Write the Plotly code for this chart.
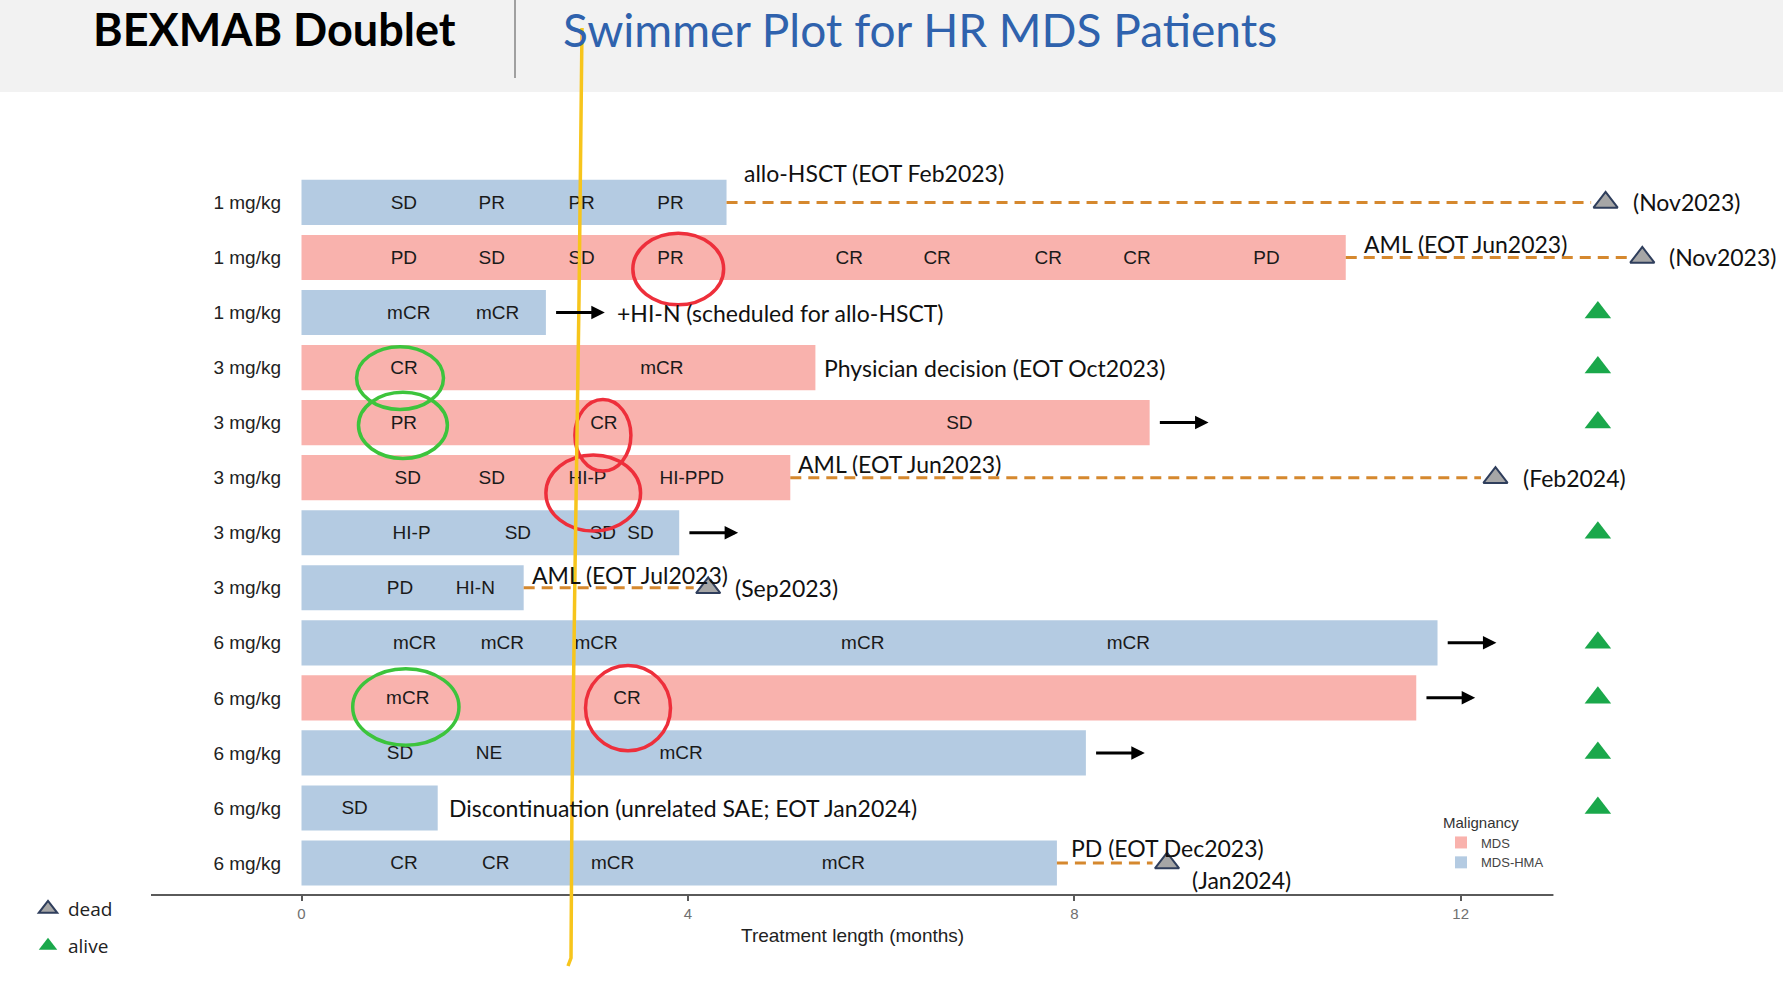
import plotly.graph_objects as go

# ---------------- data ----------------
dose_labels = ["1 mg/kg", "1 mg/kg", "1 mg/kg", "3 mg/kg", "3 mg/kg", "3 mg/kg", "3 mg/kg",
               "3 mg/kg", "6 mg/kg", "6 mg/kg", "6 mg/kg", "6 mg/kg", "6 mg/kg"]
malignancy = ["MDS-HMA", "MDS", "MDS-HMA", "MDS", "MDS", "MDS", "MDS-HMA",
              "MDS-HMA", "MDS-HMA", "MDS", "MDS-HMA", "MDS-HMA", "MDS-HMA"]
treatment_months = [4.40, 10.81, 2.53, 5.32, 8.78, 5.06, 3.91, 2.30, 11.76, 11.54, 8.12, 1.41, 7.82]

response_times = [
    [1.06, 1.97, 2.90, 3.82],
    [1.06, 1.97, 2.90, 3.82, 5.67, 6.58, 7.73, 8.65, 9.99],
    [1.11, 2.03],
    [1.06, 3.73],
    [1.06, 3.13, 6.81],
    [1.10, 1.97, 2.96, 4.04],
    [1.14, 2.24, 3.12, 3.51],
    [1.02, 1.80],
    [1.17, 2.08, 3.05, 5.81, 8.56],
    [1.10, 3.37],
    [1.02, 1.94, 3.93],
    [0.55],
    [1.06, 2.01, 3.22, 5.61],
]
response_labels = [
    ["SD", "PR", "PR", "PR"],
    ["PD", "SD", "SD", "PR", "CR", "CR", "CR", "CR", "PD"],
    ["mCR", "mCR"],
    ["CR", "mCR"],
    ["PR", "CR", "SD"],
    ["SD", "SD", "HI-P", "HI-PPD"],
    ["HI-P", "SD", "SD", "SD"],
    ["PD", "HI-N"],
    ["mCR", "mCR", "mCR", "mCR", "mCR"],
    ["mCR", "CR"],
    ["SD", "NE", "mCR"],
    ["SD"],
    ["CR", "CR", "mCR", "mCR"],
]
ongoing = [False, False, True, False, True, False, True, False, True, True, True, False, False]
status = ["dead", "dead", "alive", "alive", "alive", "dead", "alive",
          "dead", "alive", "alive", "alive", "alive", "dead"]
death_months = [13.50, 13.88, None, None, None, 12.36, None, 4.21, None, None, None, None, 8.96]
death_dates = ["(Nov2023)", "(Nov2023)", None, None, None, "(Feb2024)", None, "(Sep2023)",
               None, None, None, None, "(Jan2024)"]
end_notes = ["allo-HSCT (EOT Feb2023)", "AML (EOT Jun2023)", "+HI-N (scheduled for allo-HSCT)",
             "Physician decision (EOT Oct2023)", None, "AML (EOT Jun2023)", None,
             "AML (EOT Jul2023)", None, None, None,
             "Discontinuation (unrelated SAE; EOT Jan2024)", "PD (EOT Dec2023)"]
x_ticks = [0, 4, 8, 12]

# ---------------- layout constants ----------------
W, H = 1783, 985
ML, MR, MT, MB = 151, 20, 130, 90
X0_PX, PX_PER_MONTH = 301.5, 96.6
ROW_PX = 55.05
X_RANGE = [(ML - X0_PX) / PX_PER_MONTH, (W - MR - X0_PX) / PX_PER_MONTH]
Y_RANGE = [-0.581, -0.581 + (H - MT - MB) / ROW_PX]
AXIS_END = 12.96
STATUS_COL_X = 13.42
# per-row placement of the end-of-treatment notes (dx from bar end or arrow tip, dy in rows)
note_dx = [0.16, 0.17, 0.11, 0.07, 0, 0.06, 0, 0.07, 0, 0, 0, 0.10, 0.13]
note_dy = [0.54, 0.25, 0.0, 0.0, 0, 0.24, 0, 0.24, 0, 0, 0, 0.0, 0.27]

COL = {"MDS": "#F9B2AD", "MDS-HMA": "#B4CBE2"}
ORANGE = "#D5882E"
PW, PH = W - ML - MR, H - MT - MB


def fx(px):
    return (px - ML) / PW


def fy(py):
    return (H - MB - py) / PH


n = len(dose_labels)
ypos = [n - 1 - i for i in range(n)]

fig = go.Figure()

# bars
for m in ["MDS", "MDS-HMA"]:
    idx = [i for i in range(n) if malignancy[i] == m]
    fig.add_trace(go.Bar(
        x=[treatment_months[i] for i in idx], y=[ypos[i] for i in idx], base=0,
        orientation="h", width=0.82, marker=dict(color=COL[m], line=dict(width=0)),
        name=m, legend="legend", hoverinfo="skip"))

# response labels
tx, ty, tt = [], [], []
for i in range(n):
    for t, l in zip(response_times[i], response_labels[i]):
        tx.append(t); ty.append(ypos[i] - 0.03); tt.append(l)
fig.add_trace(go.Scatter(x=tx, y=ty, text=tt, mode="text", showlegend=False,
                         textfont=dict(family="Liberation Sans, Arial", size=19, color="#1a1a1a"),
                         hoverinfo="skip"))

# dashed follow-up lines
for i in range(n):
    if death_months[i] is not None:
        fig.add_trace(go.Scatter(x=[treatment_months[i], death_months[i] - 0.15], y=[ypos[i], ypos[i]],
                                 mode="lines", line=dict(color=ORANGE, width=3, dash="11px,7px"),
                                 showlegend=False, hoverinfo="skip"))

# status markers
dx = [death_months[i] for i in range(n) if status[i] == "dead"]
dy = [ypos[i] for i in range(n) if status[i] == "dead"]
ax_ = [STATUS_COL_X for i in range(n) if status[i] == "alive"]
ay_ = [ypos[i] for i in range(n) if status[i] == "alive"]
fig.add_trace(go.Scatter(x=dx, y=dy, mode="markers", name="dead", legend="legend2",
                         marker=dict(symbol="triangle-up", size=21, color="#A6A6A6",
                                     line=dict(color="#2F3E5C", width=2)),
                         cliponaxis=False, hoverinfo="skip"))
fig.add_trace(go.Scatter(x=ax_, y=ay_, mode="markers", name="alive", legend="legend3",
                         marker=dict(symbol="triangle-up", size=23, color="#1AA84B", line=dict(width=0)),
                         cliponaxis=False, hoverinfo="skip"))

annotations = []
NOTE_FONT = dict(family="Lato, Open Sans, sans-serif", size=23, color="#111111")
# arrows
for i in range(n):
    if ongoing[i]:
        s = treatment_months[i] + 0.09
        annotations.append(dict(x=s + 0.52, y=ypos[i], ax=s, ay=ypos[i], xref="x", yref="y",
                                axref="x", ayref="y", showarrow=True, arrowhead=2, arrowsize=0.9,
                                arrowwidth=3, arrowcolor="#000000", text=""))
# end-of-treatment notes
for i in range(n):
    if end_notes[i]:
        base = treatment_months[i] + (0.61 if ongoing[i] else 0)
        annotations.append(dict(x=base + note_dx[i], y=ypos[i] + note_dy[i], xref="x", yref="y",
                                text=end_notes[i], showarrow=False, xanchor="left", yanchor="middle",
                                font=NOTE_FONT))
# death dates
for i in range(n):
    if death_dates[i]:
        below = ypos[i] == 0
        annotations.append(dict(x=death_months[i] + (0.24 if below else 0.26), y=ypos[i] - (0.30 if below else 0),
                                xref="x", yref="y", text=death_dates[i], showarrow=False,
                                xanchor="left", yanchor="middle", font=NOTE_FONT))
# x axis title
annotations.append(dict(x=(X_RANGE[0] + AXIS_END) / 2, y=fy(935), xref="x", yref="paper",
                        text="Treatment length (months)", showarrow=False, yanchor="middle",
                        font=dict(family="Liberation Sans, Arial", size=19, color="#222222")))
# header texts
annotations.append(dict(x=fx(91), y=fy(29), xref="paper", yref="paper", text="<b>BEXMAB Doublet</b>",
                        showarrow=False, xanchor="left", yanchor="middle",
                        font=dict(family="Lato, sans-serif", size=45, color="#000000")))
annotations.append(dict(x=fx(561), y=fy(29), xref="paper", yref="paper",
                        text="Swimmer Plot for HR MDS Patients", showarrow=False, xanchor="left",
                        yanchor="middle", font=dict(family="Lato, sans-serif", size=46, color="#2F62AD")))

shapes = [
    dict(type="rect", xref="paper", yref="paper", x0=fx(0), x1=fx(W), y0=fy(0), y1=fy(92),
         fillcolor="#F2F2F2", line=dict(width=0), layer="below"),
    dict(type="line", xref="paper", yref="paper", x0=fx(515), x1=fx(515), y0=fy(0), y1=fy(78),
         line=dict(color="#A0A0A0", width=2)),
    dict(type="line", xref="x", yref="paper", x0=X_RANGE[0], x1=AXIS_END, y0=0, y1=0,
         line=dict(color="#5A5A5A", width=2)),
]
# hand-drawn highlight circles (x in months, y in rows)
circles = [
    ("#3CC43C", 0.57, 1.47, 8.24, 9.38), ("#3CC43C", 0.59, 1.51, 7.35, 8.55),
    ("#3CC43C", 0.53, 1.63, 2.14, 3.53),
    ("#EE2F3B", 3.43, 4.37, 10.14, 11.44), ("#EE2F3B", 2.83, 3.41, 7.12, 8.42),
    ("#EE2F3B", 2.53, 3.51, 6.03, 7.41), ("#EE2F3B", 2.94, 3.82, 2.04, 3.59),
]
for c, x0, x1, y0, y1 in circles:
    shapes.append(dict(type="circle", xref="x", yref="y", x0=x0, x1=x1, y0=y0, y1=y1,
                       line=dict(color=c, width=3.5), layer="above"))
# yellow hand-drawn vertical line
pts = [(582, 28), (579, 300), (575, 570), (572, 800), (571, 958), (568, 966)]
path = "M " + " L ".join(f"{fx(px):.5f},{fy(py):.5f}" for px, py in pts)
shapes.append(dict(type="path", xref="paper", yref="paper", path=path,
                   line=dict(color="#F7C51C", width=3.5), layer="above"))

small_legend = dict(font=dict(family="Open Sans, sans-serif", size=19, color="#222222"),
                    bgcolor="rgba(0,0,0,0)", xanchor="left", yanchor="middle")
fig.update_layout(
    width=W, height=H, margin=dict(l=ML, r=MR, t=MT, b=MB),
    paper_bgcolor="white", plot_bgcolor="white", barmode="overlay",
    xaxis=dict(range=X_RANGE, tickvals=x_ticks, ticktext=[str(v) for v in x_ticks],
               showgrid=False, zeroline=False, showline=False, ticks="outside", ticklen=5,
               tickcolor="#5A5A5A", tickwidth=2,
               tickfont=dict(family="Liberation Sans, Arial", size=15, color="#707070")),
    yaxis=dict(range=Y_RANGE, tickvals=ypos, ticktext=dose_labels, showgrid=False, zeroline=False,
               showline=False, ticks="", anchor="free", position=fx(281),
               tickfont=dict(family="Liberation Sans, Arial", size=19, color="#222222")),
    legend=dict(title=dict(text="Malignancy", font=dict(size=15, color="#333333")),
                x=fx(1441), y=fy(808), xanchor="left", yanchor="top",
                font=dict(family="Liberation Sans, Arial", size=13, color="#444444"),
                bgcolor="rgba(0,0,0,0)", tracegroupgap=0),
    legend2=dict(x=fx(28), y=fy(909), **small_legend),
    legend3=dict(x=fx(28), y=fy(946), **small_legend),
    annotations=annotations, shapes=shapes, showlegend=True,
)

fig.write_html("out.html", post_script="document.body.style.margin='0';",
               config={"displayModeBar": False})
